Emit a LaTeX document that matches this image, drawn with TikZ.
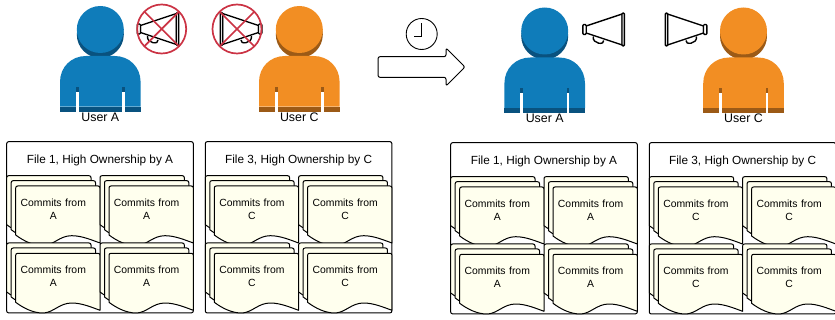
\documentclass[tikz,border=0pt]{standalone}
\usepackage{fontspec}
\setmainfont{Liberation Sans}
\definecolor{blueM}{HTML}{0F7CBA}
\definecolor{blueD}{HTML}{09527F}
\definecolor{orangeM}{HTML}{F28E23}
\definecolor{orangeD}{HTML}{9C5A16}
\definecolor{docfill}{HTML}{FFFFEE}
\definecolor{nored}{HTML}{CB3344}
\tikzset{
  filebox/.style={draw=black,line width=1pt,rounded corners=2pt,fill=white},
  docsheet/.style={draw=black,line width=1pt,fill=docfill,line join=round},
  doctext/.style={font=\fontsize{10.4}{13.3}\selectfont,align=center,inner sep=0pt,text width=70pt},
  titletext/.style={font=\fontsize{11.8}{14}\selectfont,inner sep=0pt},
  usertext/.style={font=\fontsize{12.4}{14}\selectfont,inner sep=0pt},
  horn/.style={draw=black,line width=1.4pt,fill=white,line join=round},
  nosign/.style={draw=nored,line width=1.7pt},
  arrowshape/.style={draw=black,line width=1pt,fill=white,rounded corners=2pt,line join=round},
}
\newcommand{\sheet}[2]{%
  \begin{scope}[shift={(#1,#2)}]
  \path[docsheet] (0,49) -- (0,2) .. controls (0,0.7) and (0.7,0) .. (2,0) -- (82.3,0) .. controls (83.6,0) and (84.3,0.7) .. (84.3,2) -- (84.3,57)
    .. controls (76,54) and (66,49.7) .. (56,49.7)
    .. controls (44,49.7) and (38,59) .. (28,59.7)
    .. controls (18,60) and (8,55) .. (0,49) -- cycle;
  \end{scope}}
\newcommand{\stack}[4]{% name, x, y, letter
  \sheet{#2}{#3}
  \sheet{#2+4.5}{#3+5}
  \sheet{#2+9}{#3+10.3}
  \node[doctext] (#1) at (#2+46.6,#3+33.3) {Commits from\\#4};}
\newcommand{\filegroup}[5]{% name, dx, dy, title, letter
  \node[filebox,minimum width=186.6pt,minimum height=171.3pt,inner sep=0pt] (#1) at (100+#2,227.3+#3) {};
  \node[titletext] (#1t) at (100+#2,160+#3) {#4};
  \stack{#1a}{6.7+#2}{175.7+#3}{#5}
  \stack{#1b}{100+#2}{175.7+#3}{#5}
  \stack{#1c}{6.7+#2}{243+#3}{#5}
  \stack{#1d}{100+#2}{243+#3}{#5}}
\newcommand{\person}[6]{% name, cx, dy, main, dark, label
  \begin{scope}[shift={(#2,#3)}]
  \fill[#5] (0,34.5) circle[radius=23.5];
  \fill[#4] (0,29.5) circle[radius=23.5];
  \fill[#4] (-40.3,106.7) -- (-40.3,82) .. controls (-40.3,67) and (-29,56) .. (-14.3,56) -- (14.3,56) .. controls (29,56) and (40.3,67) .. (40.3,82) -- (40.3,106.7) -- cycle;
  \fill[#5] (-40.3,106.7) rectangle (40.3,111.7);
  \fill[#5] (-24.3,87) rectangle (-21.6,92);
  \fill[#5] (22,87) rectangle (24.7,92);
  \fill[white] (-24.3,92) rectangle (-21.6,111.7);
  \fill[white] (22,92) rectangle (24.7,111.7);
  \node[usertext] (#1) at (0,117) {#6};
  \end{scope}}
% megaphone: s=+1 opens to the right, s=-1 opens to the left; (x,y) = mouth bar centre
\newcommand{\megaphone}[3]{%
  \begin{scope}[shift={(#1,#2)},xscale=#3]
    \path[horn] (-30,7) .. controls (-31,15) and (-18,15.5) .. (-19.5,11);
    \path[horn] (-37,-3.5) -- (-1,-15.5) -- (-1,15.5) -- (-37,3.5) -- cycle;
    \path[horn,rounded corners=1pt] (-40.3,-5) rectangle (-37,5);
    \path[horn,rounded corners=1pt] (-1.2,-16.5) rectangle (1.2,16.5);
  \end{scope}}
\begin{document}
\begin{tikzpicture}[x=1pt,y=-1pt]
\useasboundingbox (0,0) rectangle (835,320);
\person{ua}{100.3}{0}{blueM}{blueD}{User A}
\person{uc}{299.3}{0}{orangeM}{orangeD}{User C}
\person{ub}{544.7}{1.5}{blueM}{blueD}{User A}
\person{ud}{743.5}{1.5}{orangeM}{orangeD}{User C}
\megaphone{177.5}{29}{1}
\megaphone{221.5}{29}{-1}
\coordinate (na) at (161.7,29);
\coordinate (nb) at (237,29);
\draw[nosign] (na) circle[radius=24.5];
\draw[nosign] (na)+(-17.3,-17.3) -- +(17.3,17.3) (na)+(-17.3,17.3) -- +(17.3,-17.3);
\draw[nosign] (nb) circle[radius=24.5];
\draw[nosign] (nb)+(-17.3,-17.3) -- +(17.3,17.3) (nb)+(-17.3,17.3) -- +(17.3,-17.3);
\megaphone{623.2}{29.5}{1}
\megaphone{666.5}{29.5}{-1}
% clock
\coordinate (clk) at (421.7,34);
\draw[black,line width=0.9pt] (clk) circle[radius=15.5];
\draw[black,line width=0.9pt] (421.7,23.5) -- (421.7,36) -- (413.5,36);
% arrow
\path[arrowshape] (378,56.7) -- (446,56.7) -- (446,48) -- (465,67) -- (446,86) -- (446,77.3) -- (378,77.3) -- cycle;
% files
\filegroup{fa}{0}{0}{File 1, High Ownership by A}{A}
\filegroup{fb}{198.6}{0}{File 3, High Ownership by C}{C}
\filegroup{fc}{444}{1}{File 1, High Ownership by A}{A}
\filegroup{fd}{642.6}{1}{File 3, High Ownership by C}{C}
\end{tikzpicture}
\end{document}
